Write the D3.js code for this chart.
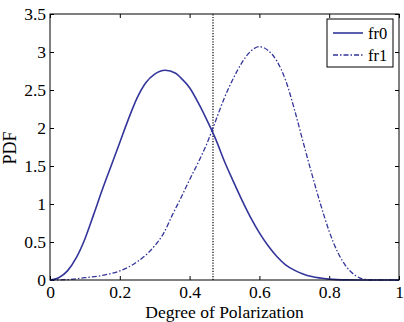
<!DOCTYPE html>
<html><head><meta charset="utf-8">
<script src="https://cdn.jsdelivr.net/npm/d3@7"></script>
<style>body{margin:0;background:#fff}svg{display:block}text{font-family:"Liberation Serif","Times New Roman",serif;fill:#000}</style>
</head><body><svg id="c" width="404" height="322"></svg>
<script>
const fr0X = [0,0.025,0.05,0.075,0.1,0.125,0.15,0.175,0.2,0.225,0.25,0.275,0.3,0.33,0.36,0.375,0.4,0.425,0.45,0.475,0.5,0.525,0.55,0.575,0.6,0.625,0.65,0.675,0.7,0.725,0.75,0.8,0.85,0.9,1];
const fr0Y = [0,0.03,0.12,0.29,0.54,0.86,1.19,1.5,1.81,2.12,2.4,2.6,2.71,2.76,2.72,2.66,2.53,2.33,2.1,1.85,1.56,1.3,1.05,0.82,0.62,0.45,0.31,0.2,0.13,0.08,0.045,0.012,0.002,0,0];
const fr1X = [0,0.05,0.1,0.15,0.2,0.225,0.25,0.275,0.3,0.325,0.35,0.375,0.4,0.425,0.45,0.475,0.5,0.525,0.55,0.575,0.6,0.625,0.65,0.675,0.7,0.725,0.75,0.775,0.8,0.825,0.85,0.875,0.9,0.925,1];
const fr1Y = [0,0.005,0.03,0.06,0.12,0.17,0.24,0.33,0.45,0.61,0.85,1.08,1.32,1.55,1.8,2.1,2.4,2.65,2.86,3.01,3.07,3.02,2.88,2.63,2.25,1.82,1.4,1.0,0.64,0.36,0.17,0.06,0.01,0,0];
const xTicks = [0,0.2,0.4,0.6,0.8,1];
const yTicks = [0,0.5,1,1.5,2,2.5,3,3.5];
const threshold = 0.467;
const seriesNames = ["fr0","fr1"];

const svg = d3.select("#c");
const L=50,R=399,T=14,B=280;
const x = d3.scaleLinear().domain([0,1]).range([L,R]);
const y = d3.scaleLinear().domain([0,3.5]).range([B,T]);
const col = "#33359a";
const FS = 17.5;

svg.append("rect").attr("x",L).attr("y",T).attr("width",R-L).attr("height",B-T).attr("fill","#fff");

const fmt = d => String(d);
const styleTicks = a => a.selectAll("text").attr("font-size",FS).attr("font-family","Liberation Serif").attr("fill","#000");
const g = svg.append("g");
g.append("g").attr("transform",`translate(0,${B})`)
 .call(d3.axisBottom(x).tickValues(xTicks).tickFormat(fmt).tickSizeInner(-4).tickSizeOuter(0).tickPadding(6))
 .call(a=>{a.select(".domain").remove();styleTicks(a);a.selectAll("line").attr("stroke","#000");});
g.append("g").attr("transform",`translate(0,${T})`)
 .call(d3.axisTop(x).tickValues(xTicks).tickFormat("").tickSizeInner(-4).tickSizeOuter(0))
 .call(a=>{a.select(".domain").remove();a.selectAll("line").attr("stroke","#000");});
g.append("g").attr("transform",`translate(${L},0)`)
 .call(d3.axisLeft(y).tickValues(yTicks).tickFormat(fmt).tickSizeInner(-4).tickSizeOuter(0).tickPadding(4))
 .call(a=>{a.select(".domain").remove();styleTicks(a);a.selectAll("line").attr("stroke","#000");});
g.append("g").attr("transform",`translate(${R},0)`)
 .call(d3.axisRight(y).tickValues(yTicks).tickFormat("").tickSizeInner(-4).tickSizeOuter(0))
 .call(a=>{a.select(".domain").remove();a.selectAll("line").attr("stroke","#000");});

const line = d3.line().x(d=>x(d[0])).y(d=>y(d[1])).curve(d3.curveMonotoneX);
const d0 = fr0X.map((v,i)=>[v,fr0Y[i]]);
const d1 = fr1X.map((v,i)=>[v,fr1Y[i]]);
svg.append("line").attr("x1",x(threshold)).attr("x2",x(threshold)).attr("y1",B).attr("y2",T)
  .attr("stroke","#000").attr("stroke-width",1.2).attr("stroke-dasharray","1.2,1.5");
svg.append("path").attr("d",line(d1)).attr("fill","none").attr("stroke",col).attr("stroke-width",1.3).attr("stroke-dasharray","5,2,1.5,2");
svg.append("path").attr("d",line(d0)).attr("fill","none").attr("stroke",col).attr("stroke-width",1.6);

svg.append("rect").attr("x",L).attr("y",T).attr("width",R-L).attr("height",B-T).attr("fill","none").attr("stroke","#000").attr("stroke-width",1);

const lg = svg.append("g");
lg.append("rect").attr("x",327).attr("y",19).attr("width",66).attr("height",48).attr("fill","#fff").attr("stroke","#000").attr("stroke-width",1);
[0,1].forEach(i=>{
  const yy = 33 + i*22;
  lg.append("line").attr("x1",333).attr("x2",363).attr("y1",yy).attr("y2",yy).attr("stroke",col)
    .attr("stroke-width",i?1.3:1.6).attr("stroke-dasharray",i?"5,2,1.5,2":null);
  lg.append("text").attr("x",368).attr("y",yy+5.5).attr("font-size",16.5).text(seriesNames[i]);
});

svg.append("text").attr("x",(L+R)/2).attr("y",317.5).attr("text-anchor","middle").attr("font-size",17.5).text("Degree of Polarization");
svg.append("text").attr("transform",`translate(16,148) rotate(-90)`).attr("text-anchor","middle").attr("font-size",18).text("PDF");
</script></body></html>
